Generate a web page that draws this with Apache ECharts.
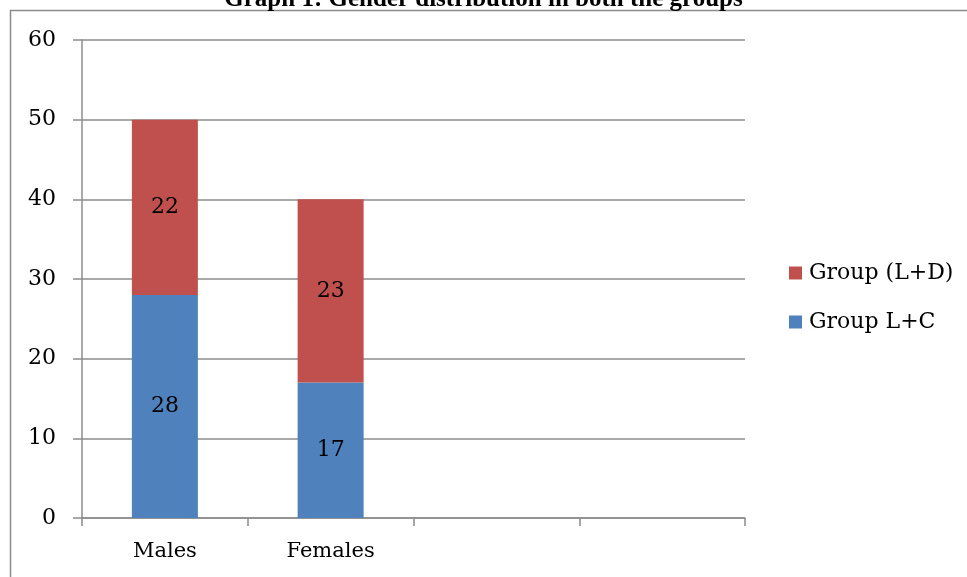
<!DOCTYPE html>
<html>
<head>
<meta charset="utf-8">
<script src="https://cdn.jsdelivr.net/npm/echarts@6/dist/echarts.min.js"></script>
<style>
  html, body { margin: 0; padding: 0; background: #fff; }
  #box { width: 967px; height: 577px; }
</style>
</head>
<body>
<div id="box"></div>
<script>
// data
let categories = ["Males", "Females", "", ""];
let groupLC = [28, 17, null, null];
let groupLD = [22, 23, null, null];
let yTicks = { min: 0, max: 60, interval: 10 };

let serif = "'DejaVu Serif', serif";
let chart = echarts.init(document.getElementById("box"), null, { renderer: "canvas" });

let option = {
  animation: false,
  title: {
    text: "Graph 1: Gender distribution in both the groups",
    left: "center",
    top: -18,
    textStyle: { fontFamily: "'Liberation Serif', serif", fontWeight: "bold", fontSize: 25, color: "#000" }
  },
  graphic: [
    {
      type: "rect",
      shape: { x: 10.5, y: 10.5, width: 1200, height: 1200 },
      style: { fill: null, stroke: "#8c8c8c", lineWidth: 1.5 },
      silent: true
    }
  ],
  legend: {
    orient: "vertical",
    left: 789,
    top: 262,
    padding: 0,
    itemWidth: 13,
    itemHeight: 13,
    itemGap: 27,
    icon: "rect",
    textStyle: { fontFamily: serif, fontSize: 22, color: "#000", padding: [0, 0, 0, 2] },
    data: ["Group (L+D)", "Group L+C"]
  },
  grid: { left: 82, right: 222, top: 40, bottom: 59, containLabel: false },
  xAxis: {
    type: "category",
    data: categories,
    axisLine: { lineStyle: { color: "#8c8c8c", width: 1.5 } },
    axisTick: { show: true, length: 8, alignWithLabel: false, lineStyle: { color: "#8c8c8c", width: 1.5 } },
    axisLabel: { fontFamily: serif, fontSize: 21, color: "#000", margin: 23 }
  },
  yAxis: {
    type: "value",
    min: yTicks.min,
    max: yTicks.max,
    interval: yTicks.interval,
    axisLine: { show: true, lineStyle: { color: "#8c8c8c", width: 1.5 } },
    axisTick: { show: true, length: 9, lineStyle: { color: "#8c8c8c", width: 1.5 } },
    splitLine: { lineStyle: { color: "#8c8c8c", width: 1.5 } },
    axisLabel: { fontFamily: serif, fontSize: 22, color: "#000", margin: 26 }
  },
  series: [
    {
      name: "Group L+C",
      type: "bar",
      stack: "g",
      barWidth: 66,
      data: groupLC,
      itemStyle: { color: "#4F81BD" },
      label: { show: true, position: "inside", fontFamily: serif, fontSize: 22, color: "#000" }
    },
    {
      name: "Group (L+D)",
      type: "bar",
      stack: "g",
      barWidth: 66,
      data: groupLD,
      itemStyle: { color: "#C0504D" },
      label: { show: true, position: "inside", fontFamily: serif, fontSize: 22, color: "#000" }
    }
  ]
};

chart.setOption(option);
</script>
</body>
</html>
